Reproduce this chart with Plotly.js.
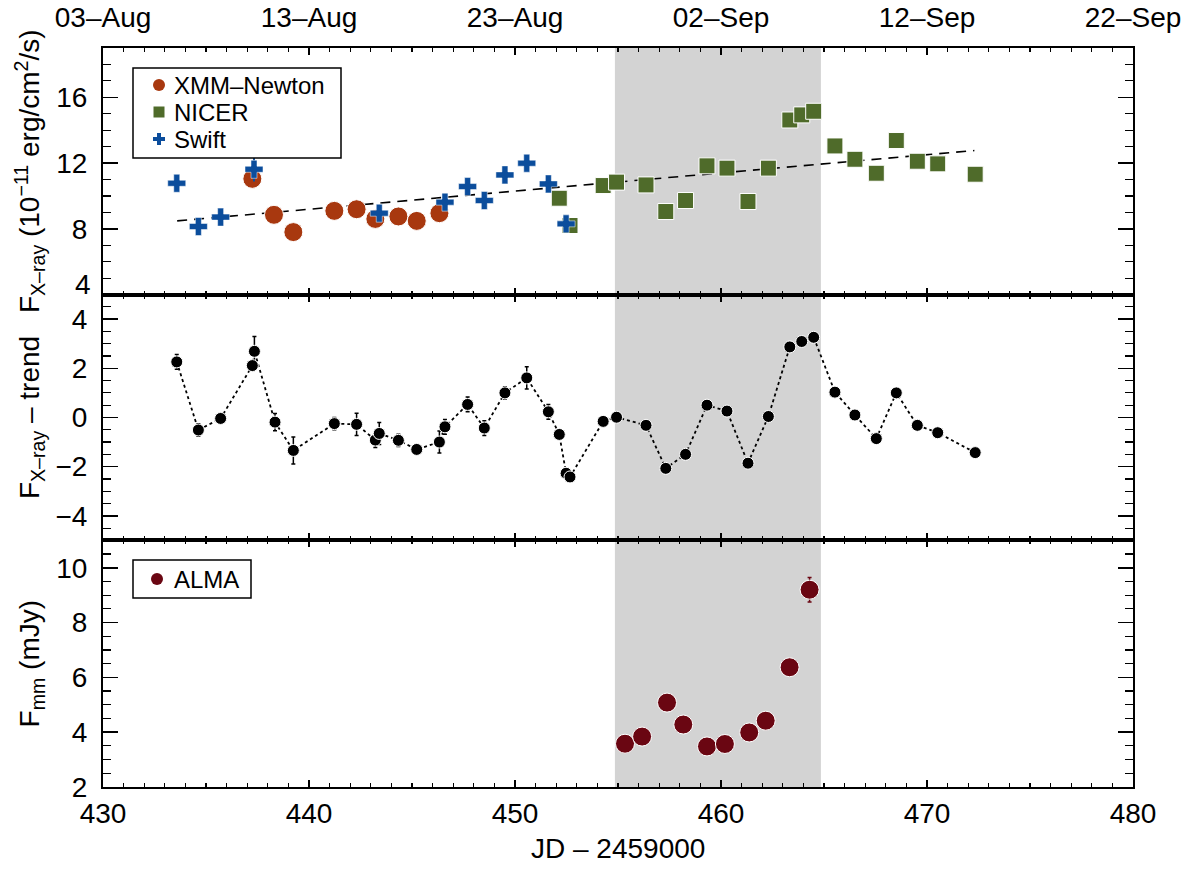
<!DOCTYPE html>
<html>
<head>
<meta charset="utf-8">
<script src="https://cdn.plot.ly/plotly-3.0.1.min.js"></script>
<style>
  html, body { margin: 0; padding: 0; background: #fff; }
  #chart { width: 1200px; height: 872px; }
</style>
</head>
<body>
<div id="chart"></div>
<script>
// data (JD - 2459000)
const xmmX = [437.25, 438.3, 439.24, 441.23, 442.31, 443.22, 444.34, 445.23, 446.33];
const xmmY = [11.04, 8.85, 7.8, 9.09, 9.19, 8.6, 8.75, 8.48, 8.95];
const xmmErr = [0.2, 0.35, 0.55, 0.25, 0.2, 0.3, 0.25, 0.2, 0.45];

const nicerX = [452.15, 452.67, 454.28, 454.93, 456.36, 457.32, 458.28, 459.32, 460.29, 461.31, 462.3,
  463.34, 463.92, 464.5, 465.53, 466.5, 467.54, 468.51, 469.53, 470.52, 472.34];
const nicerY = [9.86, 8.2, 10.63, 10.84, 10.67, 9.05, 9.72, 11.83, 11.69, 9.66, 11.69,
  14.62, 14.93, 15.15, 13.04, 12.23, 11.38, 13.37, 12.11, 11.95, 11.32];

const swiftX = [433.58, 434.63, 435.71, 437.33, 443.41, 446.6, 447.7, 448.51, 449.51, 450.57, 451.62, 452.48];
const swiftY = [10.77, 8.14, 8.71, 11.62, 8.95, 9.62, 10.57, 9.72, 11.28, 11.99, 10.73, 8.3];
const swiftErr = [0.3, 0.25, 0.2, 0.75, 0.45, 0.3, 0.3, 0.3, 0.25, 0.45, 0.3, 0.1];

const trendX = [433.6, 472.3];
const trendY = [8.48, 12.76];

// residuals (flux - trend)
const resX = [433.58, 434.63, 435.71, 437.25, 437.35, 438.35, 439.24, 441.23, 442.31, 443.22, 443.41,
  444.34, 445.23, 446.33, 446.6, 447.7, 448.51, 449.51, 450.57, 451.62, 452.15, 452.48, 452.67,
  454.28, 454.93, 456.36, 457.32, 458.28, 459.32, 460.29, 461.31, 462.3, 463.34, 463.92, 464.5,
  465.53, 466.5, 467.54, 468.51, 469.53, 470.52, 472.34];
const resY = [2.26, -0.51, -0.04, 2.11, 2.69, -0.19, -1.34, -0.25, -0.28, -0.92, -0.65,
  -0.93, -1.3, -1.0, -0.38, 0.53, -0.43, 1.0, 1.61, 0.23, -0.69, -2.27, -2.42,
  -0.16, 0.01, -0.32, -2.07, -1.5, 0.5, 0.26, -1.86, 0.04, 2.87, 3.09, 3.26,
  1.03, 0.1, -0.86, 1.0, -0.32, -0.62, -1.43];
const resErr = [0.3, 0.25, 0.2, 0.2, 0.6, 0.35, 0.55, 0.25, 0.45, 0.3, 0.45,
  0.25, 0.2, 0.45, 0.3, 0.3, 0.3, 0.25, 0.45, 0.3, 0.15, 0.1, 0.1,
  0.1, 0.1, 0.1, 0.1, 0.1, 0.1, 0.1, 0.1, 0.1, 0.1, 0.1, 0.1,
  0.1, 0.1, 0.1, 0.1, 0.1, 0.1, 0.2];

const almaX = [455.34, 456.17, 457.38, 458.17, 459.32, 460.19, 461.37, 462.17, 463.33, 464.3];
const almaY = [3.58, 3.84, 5.08, 4.28, 3.48, 3.57, 3.99, 4.42, 6.37, 9.2];
const almaErr = [0.05, 0.05, 0.05, 0.05, 0.05, 0.05, 0.05, 0.05, 0.15, 0.45];

const bandX = [454.85, 464.85];
const dateTicks = [430, 440, 450, 460, 470, 480];
const dateLabels = ["03–Aug", "13–Aug", "23–Aug", "02–Sep", "12–Sep", "22–Sep"];

const FONT = "Liberation Sans, Arial, Helvetica, sans-serif";
const FS = 28;
const xmmColor = "#a8380f";
const nicerColor = "#4f6b2a";
const swiftColor = "#0b4d9c";
const almaColor = "#6a0612";

const traces = [
  {
    x: trendX, y: trendY, xaxis: "x3", yaxis: "y", mode: "lines",
    line: { color: "#000", width: 1.6, dash: "10px,7px" },
  },
  {
    x: xmmX, y: xmmY, xaxis: "x3", yaxis: "y", mode: "markers", name: "XMM–Newton",
    marker: { symbol: "circle", size: 19, color: xmmColor, line: { color: "#fff", width: 1 } },
    error_y: { type: "data", array: xmmErr, color: xmmColor, thickness: 1.5, width: 0 },
  },
  {
    x: nicerX, y: nicerY, xaxis: "x3", yaxis: "y", mode: "markers", name: "NICER",
    marker: { symbol: "square", size: 16, color: nicerColor, line: { color: "#fff", width: 1 } },
  },
  {
    x: swiftX, y: swiftY, xaxis: "x3", yaxis: "y", mode: "markers", name: "Swift",
    marker: { symbol: "cross", size: 15, color: swiftColor, line: { color: "#fff", width: 0.5 } },
    error_y: { type: "data", array: swiftErr, color: swiftColor, thickness: 2, width: 0 },
  },
  {
    x: resX, y: resY, xaxis: "x2", yaxis: "y2", mode: "lines+markers",
    line: { color: "#000", width: 1.8, dash: "dot" },
    marker: { symbol: "circle", size: 12, color: "#000", line: { color: "#fff", width: 1 } },
    error_y: { type: "data", array: resErr, color: "#000", thickness: 1.5, width: 2 },
  },
  {
    x: almaX, y: almaY, xaxis: "x", yaxis: "y3", mode: "markers", name: "ALMA",
    marker: { symbol: "circle", size: 19, color: almaColor, line: { color: "#fff", width: 1 } },
    error_y: { type: "data", array: almaErr, color: almaColor, thickness: 1.5, width: 2 },
  },
];

const tickFont = { family: FONT, size: FS, color: "#000" };

function xAxis(anchor, labels) {
  return {
    domain: [0, 1], anchor: anchor, range: [430, 480], dtick: 10, tick0: 430,
    ticks: "inside", ticklen: 7, tickwidth: 1.5, tickcolor: "#000",
    minor: { dtick: 1, tick0: 430, ticks: "inside", ticklen: 4, tickwidth: 1.2, tickcolor: "#000" },
    showline: true, linecolor: "#000", linewidth: 2, mirror: "ticks",
    showgrid: false, zeroline: false, showticklabels: labels, tickfont: tickFont,
    ticklabelstandoff: 0,
  };
}

function yAxis(domain, anchor, range, tickvals, minor, title) {
  return {
    domain: domain, anchor: anchor, range: range, tickvals: tickvals,
    ticks: "inside", ticklen: 15, tickwidth: 1.5, tickcolor: "#000",
    minor: { dtick: minor, ticks: "inside", ticklen: 8, tickwidth: 1.2, tickcolor: "#000" },
    showline: true, linecolor: "#000", linewidth: 2, mirror: "ticks",
    showgrid: false, zeroline: false, tickfont: tickFont, ticklabelstandoff: 8,
    title: { text: title, font: { family: FONT, size: FS, color: "#000" }, standoff: 8 },
  };
}

// hand-drawn legend boxes, in paper coordinates of the plot area (103..1133 x 48..787 px)
const px = (v) => (v - 103) / 1030;
const py = (v) => 1 - (v - 48) / 739;

function legendBox(x0, y0, x1, y1) {
  return {
    type: "rect", xref: "paper", yref: "paper", x0: px(x0), x1: px(x1), y0: py(y1), y1: py(y0),
    fillcolor: "#fff", line: { color: "#000", width: 1.5 }, layer: "above",
  };
}

function legendSymbol(kind, cx, cy, color) {
  const base = {
    xref: "paper", yref: "paper", xsizemode: "pixel", ysizemode: "pixel",
    xanchor: px(cx), yanchor: py(cy), fillcolor: color, line: { width: 0 }, layer: "above",
  };
  if (kind === "circle") return [Object.assign({ type: "circle", x0: -6, x1: 6, y0: -6, y1: 6 }, base)];
  if (kind === "square") return [Object.assign({ type: "rect", x0: -5.5, x1: 5.5, y0: -5.5, y1: 5.5 }, base)];
  return [
    Object.assign({ type: "rect", x0: -6, x1: 6, y0: -2, y1: 2 }, base),
    Object.assign({ type: "rect", x0: -2, x1: 2, y0: -6, y1: 6 }, base),
  ];
}

function legendText(text, cy) {
  return {
    xref: "paper", yref: "paper", x: px(172), y: py(cy), xanchor: "left", yanchor: "middle",
    text: text, showarrow: false, font: { family: FONT, size: 24, color: "#000" },
  };
}

const legendShapes = [legendBox(133, 68, 341, 158), legendBox(133, 560, 251, 598)]
  .concat(legendSymbol("circle", 159, 85, xmmColor))
  .concat(legendSymbol("square", 159, 112, nicerColor))
  .concat(legendSymbol("plus", 159, 139, swiftColor))
  .concat(legendSymbol("circle", 157, 579, almaColor));

const layout = {
  width: 1200, height: 872,
  margin: { l: 103, r: 67, t: 48, b: 85 },
  paper_bgcolor: "#fff", plot_bgcolor: "#fff",
  font: { family: FONT, color: "#000" },
  showlegend: false,
  xaxis: xAxis("y3", true),
  xaxis2: xAxis("y2", false),
  // top panel: date labels along the upper edge
  xaxis3: Object.assign(xAxis("y", true), {
    side: "top", tickmode: "array", tickvals: dateTicks, ticktext: dateLabels,
    ticklabelstandoff: 8,
  }),
  // the top panel's lowest label "4" sits just above the panel edge, as in the figure
  yaxis: yAxis([0.6664, 1], "x3", [4, 19], [8, 12, 16], 1,
    "F<sub>X–ray</sub> (10<sup>−11</sup> erg/cm<sup>2</sup>/s)"),
  yaxis2: yAxis([0.3337, 0.6664], "x2", [-5, 5], [-4, -2, 0, 2, 4], 0.5,
    "F<sub>X–ray</sub> – trend"),
  yaxis3: yAxis([0, 0.3337], "x", [2, 11], [2, 4, 6, 8, 10], 0.5,
    "F<sub>mm</sub> (mJy)"),
  shapes: [
    {
      type: "rect", xref: "x", yref: "paper", x0: bandX[0], x1: bandX[1], y0: 0, y1: 1,
      fillcolor: "#d3d3d3", line: { width: 0 }, layer: "below",
    },
  ].concat(legendShapes),
  annotations: [
    legendText("XMM–Newton", 85),
    legendText("NICER", 112),
    legendText("Swift", 139),
    legendText("ALMA", 579),
    {
      xref: "paper", yref: "y", x: px(93), y: 4, yshift: 10, xanchor: "right", yanchor: "middle",
      text: "4", showarrow: false, font: tickFont,
    },
    {
      xref: "paper", yref: "paper", x: 0.5, y: py(848), xanchor: "center", yanchor: "middle",
      text: "JD – 2459000", showarrow: false, font: tickFont,
    },
  ],
};

Plotly.newPlot("chart", traces, layout, { displayModeBar: false, staticPlot: true });
</script>
</body>
</html>
